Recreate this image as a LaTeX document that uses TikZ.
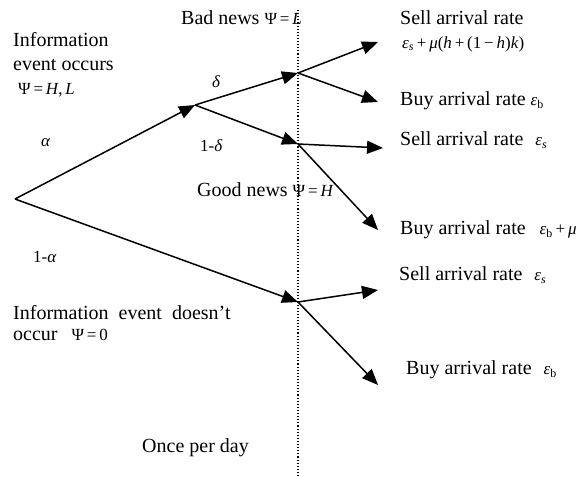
\documentclass[tikz,border=0pt]{standalone}
\usepackage{fontspec}
\setmainfont{Liberation Serif}
\usetikzlibrary{arrows.meta}

\newcommand{\eq}[1]{{\fontsize{17}{20}\selectfont #1}}
\newcommand{\vr}[1]{\textit{#1}}

\begin{document}
\begin{tikzpicture}[x=1pt,y=-1pt,
  every node/.style={font=\fontsize{20}{25}\selectfont, inner sep=0pt, anchor=west},
  branch/.style={line width=1.5pt, -{Triangle[length=16pt,width=13pt]}},
  daysep/.style={dotted, line width=1.1pt}]
  \useasboundingbox (0,0) rectangle (579,477);

  % decision points
  \coordinate (root) at (15,199);
  \coordinate (info) at (195,105);
  \coordinate (bad) at (298,73);
  \coordinate (good) at (298,144);
  \coordinate (none) at (298,302);
  % order arrivals
  \coordinate (badsell) at (378,42);
  \coordinate (badbuy) at (378,102);
  \coordinate (goodsell) at (383,148);
  \coordinate (goodbuy) at (378,230);
  \coordinate (nonesell) at (378,290);
  \coordinate (nonebuy) at (378,385);
  % end of day
  \coordinate (daytop) at (298,10);
  \coordinate (daybot) at (298,477);

  \draw[daysep] (daytop) -- (daybot);

  \draw[branch] (root) -- (info);
  \draw[branch] (root) -- (none);
  \draw[branch] (info) -- (bad);
  \draw[branch] (info) -- (good);
  \draw[branch] (bad) -- (badsell);
  \draw[branch] (bad) -- (badbuy);
  \draw[branch] (good) -- (goodsell);
  \draw[branch] (good) -- (goodbuy);
  \draw[branch] (none) -- (nonesell);
  \draw[branch] (none) -- (nonebuy);

  % probabilities
  \node (alpha) at (41,143) {\eq{\vr{α}}};
  \node (nalpha) at (33,257) {\eq{1-\vr{α}}};
  \node (delta) at (212,82) {\eq{\vr{δ}}};
  \node (ndelta) at (200,146) {\eq{1-\vr{δ}}};

  % states
  \node (infotxt) at (13,40) {Information};
  \node (infotxt2) at (13,65) {event occurs};
  \node (infopsi) at (18,90) {\eq{Ψ\,=\,\vr{H},\,\vr{L}}};
  \node (badtxt) at (181,18) {Bad news \eq{Ψ\,=\,\vr{L}}};
  \node (goodtxt) at (197,190) {Good news \eq{Ψ\,=\,\vr{H}}};
  \node (nonetxt) at (13,313) {Information\ \ event\ \ doesn’t};
  \node (nonetxt2) at (13,335) {occur\hspace{14pt}\eq{Ψ\,=\,0}};
  \node (daytxt) at (142,448) {Once per day};

  % arrival rates
  \node (badselltxt) at (400,18) {Sell arrival rate};
  \node (badsellrate) at (402,44) {\eq{\vr{ε}\textsubscript{\vr{s}}\,+\,\vr{μ}(\vr{h}\,+\,(1\,−\,\vr{h})\vr{k})}};
  \node (badbuytxt) at (400,101) {Buy arrival rate \eq{\vr{ε}\textsubscript{b}}};
  \node (goodselltxt) at (400,140) {Sell arrival rate\hspace{12pt}\eq{\vr{ε}\textsubscript{\vr{s}}}};
  \node (goodbuytxt) at (400,230) {Buy arrival rate\hspace{14pt}\eq{\vr{ε}\textsubscript{b}\,+\,\vr{μ}}};
  \node (noneselltxt) at (399,275) {Sell arrival rate\hspace{12pt}\eq{\vr{ε}\textsubscript{\vr{s}}}};
  \node (nonebuytxt) at (406,370) {Buy arrival rate\hspace{12pt}\eq{\vr{ε}\textsubscript{b}}};
\end{tikzpicture}
\end{document}
